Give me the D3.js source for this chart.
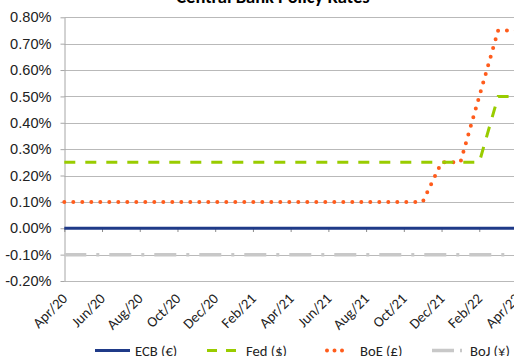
<!DOCTYPE html>
<html>
<head>
<meta charset="utf-8">
<script src="https://cdn.jsdelivr.net/npm/d3@7"></script>
<style>
  body { margin: 0; background: #fff; }
  svg { display: block; font-family: Carlito, Calibri, Lato, sans-serif; }
  .y-axis text, .x-label { font-size: 14.6px; fill: #222; }
  .legend text { font-size: 14.6px; fill: #222; }
</style>
</head>
<body>
<svg id="chart" width="514" height="356"></svg>
<script>
// Monthly observations, Apr/20 .. Apr/22
const months = [
  'Apr/20', 'May/20', 'Jun/20', 'Jul/20', 'Aug/20', 'Sep/20', 'Oct/20', 'Nov/20', 'Dec/20',
  'Jan/21', 'Feb/21', 'Mar/21', 'Apr/21', 'May/21', 'Jun/21', 'Jul/21', 'Aug/21', 'Sep/21',
  'Oct/21', 'Nov/21', 'Dec/21', 'Jan/22', 'Feb/22', 'Mar/22', 'Apr/22'
];

// policy rates, in %
const ecbRates = [0, 0, 0, 0, 0, 0, 0, 0, 0, 0, 0, 0, 0, 0, 0, 0, 0, 0, 0, 0, 0, 0, 0, 0, 0];
const fedRates = [0.25, 0.25, 0.25, 0.25, 0.25, 0.25, 0.25, 0.25, 0.25, 0.25, 0.25, 0.25, 0.25,
  0.25, 0.25, 0.25, 0.25, 0.25, 0.25, 0.25, 0.25, 0.25, 0.25, 0.50, 0.50];
const boeRates = [0.10, 0.10, 0.10, 0.10, 0.10, 0.10, 0.10, 0.10, 0.10, 0.10, 0.10, 0.10, 0.10,
  0.10, 0.10, 0.10, 0.10, 0.10, 0.10, 0.10, 0.25, 0.25, 0.50, 0.75, 0.75];
const bojRates = [-0.10, -0.10, -0.10, -0.10, -0.10, -0.10, -0.10, -0.10, -0.10, -0.10, -0.10,
  -0.10, -0.10, -0.10, -0.10, -0.10, -0.10, -0.10, -0.10, -0.10, -0.10, -0.10, -0.10, -0.10, -0.10];

const seriesNames = ['ECB (€)', 'Fed ($)', 'BoE (£)', 'BoJ (¥)'];
const yTicks = [-0.2, -0.1, 0, 0.1, 0.2, 0.3, 0.4, 0.5, 0.6, 0.7, 0.8];
const xTickLabels = months.filter((d, i) => i % 2 === 0);

// line styles for each series
const styles = [
  { color: '#1f3a88', width: 3, dash: null, cap: 'butt', legendDash: null },
  { color: '#99cc00', width: 3, dash: '11,10', cap: 'butt', legendDash: '10,9' },
  { color: '#ff5c1c', width: 4, dash: '0,9', cap: 'round', legendDash: '0,7.5' },
  { color: '#c8c8c8', width: 3.5, dash: '22,10,3,10', cap: 'butt', legendDash: '22,6,2,10' }
];

const series = [ecbRates, fedRates, boeRates, bojRates].map((values, k) => ({
  name: seriesNames[k],
  style: styles[k],
  values: values.map((v, i) => ({ month: months[i], value: v }))
}));

const svg = d3.select('#chart');

// plot area runs past the right edge of the picture, as in the original crop
const plot = { left: 64.3, right: 517, top: 17.3, bottom: 281 };

const x = d3.scalePoint()
  .domain(months)
  .range([plot.left, plot.right]);

const y = d3.scaleLinear()
  .domain([-0.2, 0.8])
  .range([plot.bottom, plot.top]);

// Title (top is cropped in the original)
svg.append('text')
  .attr('x', 273)
  .attr('y', 3)
  .attr('text-anchor', 'middle')
  .style('font-size', '18.5px')
  .style('font-weight', 'bold')
  .text('Central Bank Policy Rates');

// Horizontal gridlines
svg.append('g').attr('class', 'grid')
  .selectAll('line')
  .data(yTicks)
  .enter()
  .append('line')
    .attr('x1', plot.left)
    .attr('x2', plot.right)
    .attr('y1', (d) => Math.round(y(d)) + 0.5)
    .attr('y2', (d) => Math.round(y(d)) + 0.5)
    .attr('stroke', '#b9b9b9')
    .attr('stroke-width', 1);

// Y axis
const yAxis = svg.append('g')
  .attr('class', 'y-axis')
  .attr('transform', `translate(${Math.round(plot.left) + 0.5},0)`)
  .call(d3.axisLeft(y)
    .tickValues(yTicks)
    .tickSize(4)
    .tickSizeOuter(0)
    .tickPadding(9)
    .tickFormat((d) => d.toFixed(2) + '%'));
yAxis.select('.domain').attr('stroke', '#a6a6a6');
yAxis.selectAll('.tick line').attr('stroke', '#a6a6a6');
yAxis.selectAll('text').attr('fill', '#222');

// X axis crosses at 0 - tick marks only, labels sit at the bottom
const xAxis = svg.append('g')
  .attr('class', 'x-axis')
  .attr('transform', `translate(0,${Math.round(y(0))})`)
  .call(d3.axisBottom(x)
    .tickValues(xTickLabels)
    .tickSize(4)
    .tickSizeOuter(0)
    .tickFormat(''));
xAxis.select('.domain').attr('stroke', '#a6a6a6');
xAxis.selectAll('.tick line').attr('stroke', '#8c8c8c');

svg.append('g')
  .selectAll('.x-label')
  .data(xTickLabels)
  .enter()
  .append('text')
    .attr('class', 'x-label')
    .attr('text-anchor', 'end')
    .attr('transform', (d) => `translate(${x(d) + 4},299.5) rotate(-45)`)
    .text((d) => d);

// Series lines
const line = d3.line()
  .x((d) => x(d.month))
  .y((d) => y(d.value));

svg.append('g').attr('class', 'lines')
  .selectAll('path')
  .data(series.slice().reverse())
  .enter()
  .append('path')
    .attr('d', (d) => line(d.values))
    .attr('fill', 'none')
    .attr('stroke', (d) => d.style.color)
    .attr('stroke-width', (d) => d.style.width)
    .attr('stroke-dasharray', (d) => d.style.dash)
    .attr('stroke-linecap', (d) => d.style.cap);

// Legend
const legendPos = [
  { x0: 95, x1: 130, tx: 135 },
  { x0: 207, x1: 236, tx: 246 },
  { x0: 327, x1: 349.5, tx: 360 },
  { x0: 432, x1: 465, tx: 470 }
];

const legend = svg.append('g').attr('class', 'legend');
series.forEach((s, i) => {
  const p = legendPos[i];
  legend.append('path')
    .attr('d', `M${p.x0},350.5H${p.x1}`)
    .attr('stroke', s.style.color)
    .attr('stroke-width', s.style.width)
    .attr('stroke-dasharray', s.style.legendDash)
    .attr('stroke-linecap', s.style.cap);
  legend.append('text')
    .attr('x', p.tx)
    .attr('y', 355.5)
    .text(s.name);
});
</script>
</body>
</html>
